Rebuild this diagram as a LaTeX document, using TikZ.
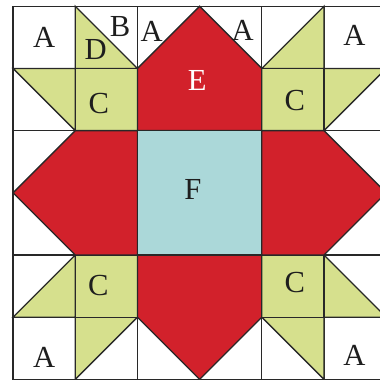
\documentclass[tikz,border=0pt]{standalone}
\usepackage{fontspec}
\setmainfont{Liberation Serif}
\usepackage{tikz}
\definecolor{qred}{RGB}{210,33,43}
\definecolor{qgreen}{RGB}{214,224,141}
\definecolor{qteal}{RGB}{171,216,217}
\definecolor{qline}{RGB}{40,40,40}
\definecolor{qtext}{RGB}{30,30,30}
\tikzset{
  piece/.style       = {draw=qline, line width=0.6pt, line join=miter},
  redpiece/.style    = {piece, fill=qred},
  greenpiece/.style  = {piece, fill=qgreen},
  centerpiece/.style = {piece, fill=qteal},
  patchlab/.style    = {font=\fontsize{14}{16}\selectfont, text=qtext, inner sep=0pt},
}

\begin{document}
\begin{tikzpicture}
  \useasboundingbox (-0.21,-0.01) rectangle (5.89,6.10);
  % corner cells
  \draw[piece] (0,4) rectangle (2,6) (1,4) -- (1,6) (0,5) -- (2,5);
  \draw[piece] (4,4) rectangle (6,6) (5,4) -- (5,6) (4,5) -- (6,5);
  \draw[piece] (0,0) rectangle (2,2) (1,0) -- (1,2) (0,1) -- (2,1);
  \draw[piece] (4,0) rectangle (6,2) (5,0) -- (5,2) (4,1) -- (6,1);
  % side strips
  \draw[piece] (2,4) rectangle (4,6);
  \draw[piece] (0,2) rectangle (2,4);
  \draw[piece] (4,2) rectangle (6,4);
  \draw[piece] (2,0) rectangle (4,2);
  % green triangles and squares
  \draw[greenpiece] (1,6) -- (1,5) -- (2,5) -- cycle;
  \draw[greenpiece] (0,5) -- (1,5) -- (1,4) -- cycle;
  \draw[greenpiece] (1,4) rectangle (2,5);
  \draw[greenpiece] (4,5) -- (5,5) -- (5,6) -- cycle;
  \draw[greenpiece] (5,4) -- (5,5) -- (6,5) -- cycle;
  \draw[greenpiece] (4,4) rectangle (5,5);
  \draw[greenpiece] (0,1) -- (1,1) -- (1,2) -- cycle;
  \draw[greenpiece] (1,0) -- (1,1) -- (2,1) -- cycle;
  \draw[greenpiece] (1,1) rectangle (2,2);
  \draw[greenpiece] (5,1) -- (5,2) -- (6,1) -- cycle;
  \draw[greenpiece] (4,1) -- (5,1) -- (5,0) -- cycle;
  \draw[greenpiece] (4,1) rectangle (5,2);
  % red points
  \draw[redpiece] (2,4) -- (2,5) -- (3,6) -- (4,5) -- (4,4) -- cycle;
  \draw[redpiece] (2,2) -- (1,2) -- (0,3) -- (1,4) -- (2,4) -- cycle;
  \draw[redpiece] (4,2) -- (5,2) -- (6,3) -- (5,4) -- (4,4) -- cycle;
  \draw[redpiece] (2,2) -- (2,1) -- (3,0) -- (4,1) -- (4,2) -- cycle;
  % centre
  \draw[centerpiece] (2,2) rectangle (4,4);

  % labels
  \node[patchlab] (aTL)  at (0.50,5.50) {A};
  \node[patchlab] (b)    at (1.72,5.67) {B};
  \node[patchlab] (d)    at (1.33,5.31) {D};
  \node[patchlab] (aTML) at (2.23,5.60) {A};
  \node[patchlab] (aTMR) at (3.69,5.61) {A};
  \node[patchlab] (aTR)  at (5.49,5.53) {A};
  \node[patchlab, text=white] (e) at (2.96,4.80) {E};
  \node[patchlab] (cTL)  at (1.38,4.44) {C};
  \node[patchlab] (cTR)  at (4.53,4.48) {C};
  \node[patchlab] (f)    at (2.89,3.05) {F};
  \node[patchlab] (cBL)  at (1.37,1.51) {C};
  \node[patchlab] (cBR)  at (4.53,1.56) {C};
  \node[patchlab] (aBL)  at (0.50,0.36) {A};
  \node[patchlab] (aBR)  at (5.49,0.38) {A};
\end{tikzpicture}
\end{document}
